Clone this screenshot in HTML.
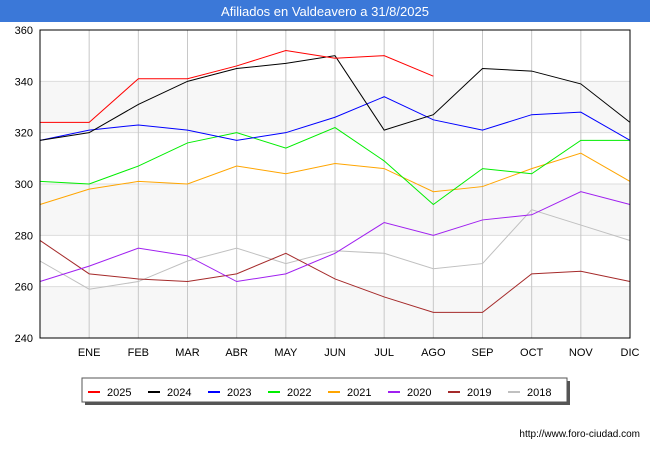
<!DOCTYPE html>
<html><head><meta charset="utf-8"><style>
body{margin:0;width:650px;height:450px;background:#fff;font-family:"Liberation Sans",sans-serif;overflow:hidden}
</style></head><body>
<svg width="650" height="450">
<rect x="0" y="0" width="650" height="22" fill="#3b78d8"/>
<text x="325" y="16" text-anchor="middle" fill="#fff" font-size="13">Afiliados en Valdeavero a 31/8/2025</text>
<g id="grid"></g><g id="series"></g>
<rect x="40" y="30" width="590" height="308" fill="none" stroke="#000" stroke-width="1"/>
<g id="legend"></g>
<text x="640" y="437" text-anchor="end" font-size="10" fill="#000">http://www.foro-ciudad.com</text>
</svg>
<script>
const months=["","ENE","FEB","MAR","ABR","MAY","JUN","JUL","AGO","SEP","OCT","NOV","DIC"];
const yTicks=[240,260,280,300,320,340,360];
const years=["2025","2024","2023","2022","2021","2020","2019","2018"];
const colors=["#ff0000","#000000","#0000ff","#00ee00","#ffa500","#a020f0","#a52a2a","#c0c0c0"];
const s2025=[324,324,341,341,346,352,349,350,342];
const s2024=[317,320,331,340,345,347,350,321,327,345,344,339,324];
const s2023=[317,321,323,321,317,320,326,334,325,321,327,328,317];
const s2022=[301,300,307,316,320,314,322,309,292,306,304,317,317];
const s2021=[292,298,301,300,307,304,308,306,297,299,306,312,301];
const s2020=[262,268,275,272,262,265,273,285,280,286,288,297,292];
const s2019=[278,265,263,262,265,273,263,256,250,250,265,266,262];
const s2018=[270,259,262,270,275,269,274,273,267,269,290,284,278];
const series=[s2025,s2024,s2023,s2022,s2021,s2020,s2019,s2018];
const NS="http://www.w3.org/2000/svg";
const X=i=>40+i*(590/12), Y=v=>338-(v-240)*(308/120);
function mk(t,a,p){const e=document.createElementNS(NS,t);for(const k in a)e.setAttribute(k,a[k]);p.appendChild(e);return e;}
const g=document.getElementById('grid');
for(let i=0;i<yTicks.length-1;i+=2){
 const r=mk('rect',{x:40,y:Y(yTicks[i+1]),width:590,height:Y(yTicks[i])-Y(yTicks[i+1]),fill:'#f7f7f7'},g);
 
 
}
yTicks.forEach(v=>{
 const l=mk('line',{x1:40,x2:630,y1:Y(v),y2:Y(v),stroke:'#ddd'},g);
 
 
 const t=mk('text',{x:33,y:Y(v)+4,'text-anchor':'end','font-size':11},g);t.textContent=v;
 
 
});
months.forEach((m,i)=>{
 if(i>0){const l=mk('line',{x1:X(i),x2:X(i),y1:30,y2:338,stroke:'#c8c8c8'},g);
 
 }
 if(m){const t=mk('text',{x:X(i),y:356,'text-anchor':'middle','font-size':11},g);t.textContent=m;
 
 }
});
const sg=document.getElementById('series');
for(let k=series.length-1;k>=0;k--){
 const p=mk('polyline',{points:series[k].map((v,i)=>X(i)+','+Y(v)).join(' '),fill:'none',stroke:colors[k],'stroke-width':1},sg);
 
 
}
const lg=document.getElementById('legend');
const sh=mk('rect',{x:85,y:381,width:485,height:24,fill:'#555'},lg);


const bx=mk('rect',{x:82,y:378,width:485,height:24,fill:'#fff',stroke:'#555'},lg);


years.forEach((y,k)=>{
 const x0=88+k*60;
 const l=mk('line',{x1:x0,x2:x0+12,y1:392,y2:392,stroke:colors[k],'stroke-width':2},lg);
 
 
 const t=mk('text',{x:x0+19,y:396,'font-size':11},lg);t.textContent=y;
 
 
});
</script>
</body></html>
